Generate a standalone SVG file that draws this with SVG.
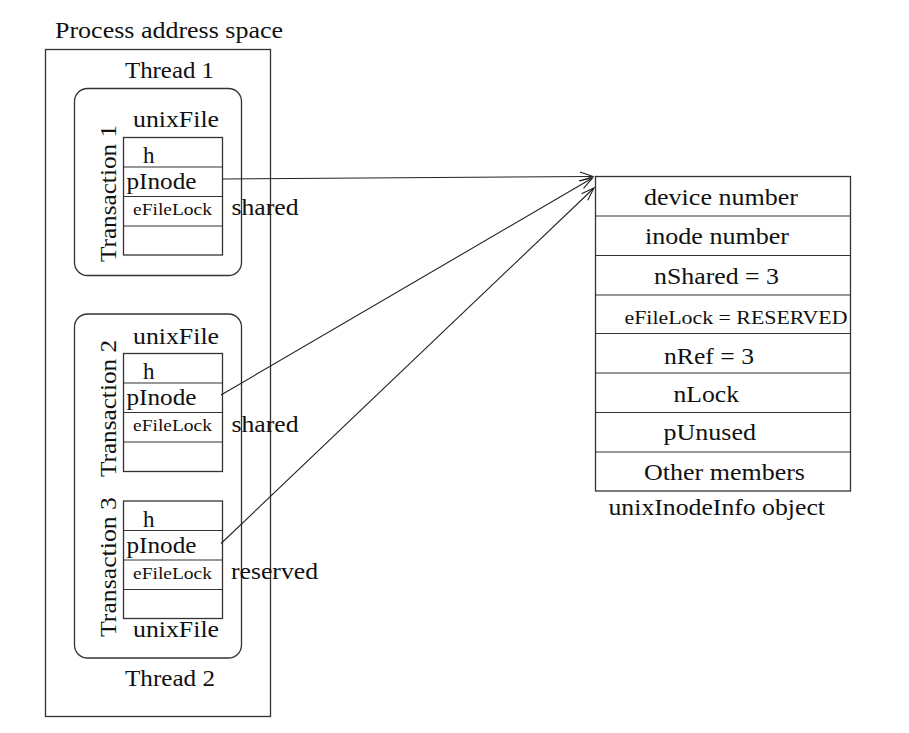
<svg xmlns="http://www.w3.org/2000/svg" width="909" height="733" viewBox="0 0 909 733">
<style>
text{font-family:"Liberation Serif","Times New Roman",serif;fill:#111;font-size:23px}
.sm{font-size:17px}
.rot{font-size:24px}
.box{fill:none;stroke:#333;stroke-width:1.3}
.ln{stroke:#333;stroke-width:1.2;fill:none}
.con{stroke:#222;stroke-width:1.1;fill:none;marker-end:url(#arr)}
</style>
<defs>
<marker id="arr" markerUnits="userSpaceOnUse" markerWidth="16" markerHeight="12" viewBox="-14 -6 16 12" refX="0" refY="0" orient="auto">
<path d="M-13,-4.5 L0,0 L-13,4.5" fill="none" stroke="#222" stroke-width="1.1"/>
</marker>
</defs>
<rect width="909" height="733" fill="#fff"/>
<g id="process">
<text x="55" y="38" textLength="228" lengthAdjust="spacingAndGlyphs">Process address space</text>
<rect class="box" x="45.5" y="49.5" width="225" height="667"/>
<text x="125" y="78" textLength="89" lengthAdjust="spacingAndGlyphs">Thread 1</text>
<text x="125" y="686" textLength="90" lengthAdjust="spacingAndGlyphs">Thread 2</text>
</g>
<g id="thread1">
<rect class="box" x="74.5" y="88.5" width="167" height="187" rx="13"/>
<text class="rot" transform="translate(116,262) rotate(-90)" textLength="137" lengthAdjust="spacingAndGlyphs">Transaction 1</text>
<text x="133" y="127" textLength="86" lengthAdjust="spacingAndGlyphs">unixFile</text>
<g id="unixfile1">
<rect class="box" x="123.5" y="137.5" width="99" height="117.5"/>
<path class="ln" d="M123.5,167H222.5M123.5,196.5H222.5M123.5,226H222.5"/>
<text x="143" y="163">h</text>
<text x="126.5" y="189" textLength="70" lengthAdjust="spacingAndGlyphs">pInode</text>
<text class="sm" x="133" y="215" textLength="79" lengthAdjust="spacingAndGlyphs">eFileLock</text>
</g>
<text x="231.5" y="215" textLength="67" lengthAdjust="spacingAndGlyphs">shared</text>
</g>
<g id="thread2">
<rect class="box" x="74.5" y="314" width="167" height="344" rx="13"/>
<text class="rot" transform="translate(116,477) rotate(-90)" textLength="137" lengthAdjust="spacingAndGlyphs">Transaction 2</text>
<text class="rot" transform="translate(116,637) rotate(-90)" textLength="140" lengthAdjust="spacingAndGlyphs">Transaction 3</text>
<text x="133" y="343.5" textLength="86" lengthAdjust="spacingAndGlyphs">unixFile</text>
<g id="unixfile2">
<rect class="box" x="123.5" y="353.5" width="99" height="118"/>
<path class="ln" d="M123.5,383H222.5M123.5,412.5H222.5M123.5,442H222.5"/>
<text x="143" y="379">h</text>
<text x="126.5" y="405" textLength="70" lengthAdjust="spacingAndGlyphs">pInode</text>
<text class="sm" x="133" y="431" textLength="79" lengthAdjust="spacingAndGlyphs">eFileLock</text>
</g>
<text x="231.5" y="431.5" textLength="67" lengthAdjust="spacingAndGlyphs">shared</text>
<g id="unixfile3">
<rect class="box" x="123.5" y="501" width="99" height="117.5"/>
<path class="ln" d="M123.5,530.5H222.5M123.5,560H222.5M123.5,589.5H222.5"/>
<text x="143" y="526.5">h</text>
<text x="126.5" y="552.5" textLength="70" lengthAdjust="spacingAndGlyphs">pInode</text>
<text class="sm" x="133" y="578.5" textLength="79" lengthAdjust="spacingAndGlyphs">eFileLock</text>
</g>
<text x="231" y="578.5" textLength="87" lengthAdjust="spacingAndGlyphs">reserved</text>
<text x="133" y="637" textLength="86" lengthAdjust="spacingAndGlyphs">unixFile</text>
</g>
<g id="inodeinfo">
<rect class="box" x="595.5" y="176.5" width="255" height="314.5"/>
<path class="ln" d="M595.5,216H850.5M595.5,255.5H850.5M595.5,295H850.5M595.5,333.5H850.5M595.5,373H850.5M595.5,412.5H850.5M595.5,452H850.5"/>
<text x="644" y="205" textLength="154" lengthAdjust="spacingAndGlyphs">device number</text>
<text x="645" y="243.5" textLength="144" lengthAdjust="spacingAndGlyphs">inode number</text>
<text x="654" y="284" textLength="125" lengthAdjust="spacingAndGlyphs">nShared = 3</text>
<text x="624.5" y="323.5" style="font-size:18px" textLength="223" lengthAdjust="spacingAndGlyphs">eFileLock = RESERVED</text>
<text x="664" y="363.5" textLength="90" lengthAdjust="spacingAndGlyphs">nRef = 3</text>
<text x="673.5" y="402" textLength="65.5" lengthAdjust="spacingAndGlyphs">nLock</text>
<text x="663.5" y="440" textLength="92.5" lengthAdjust="spacingAndGlyphs">pUnused</text>
<text x="644" y="479.5" textLength="161" lengthAdjust="spacingAndGlyphs">Other members</text>
<text x="608.5" y="515" textLength="216.5" lengthAdjust="spacingAndGlyphs">unixInodeInfo object</text>
</g>
<g id="connectors">
<path class="con" d="M222.5,179 L593,176.5"/>
<path class="con" d="M221,395 L592.5,178"/>
<path class="con" d="M221,543.5 L594,188"/>
</g>
</svg>
